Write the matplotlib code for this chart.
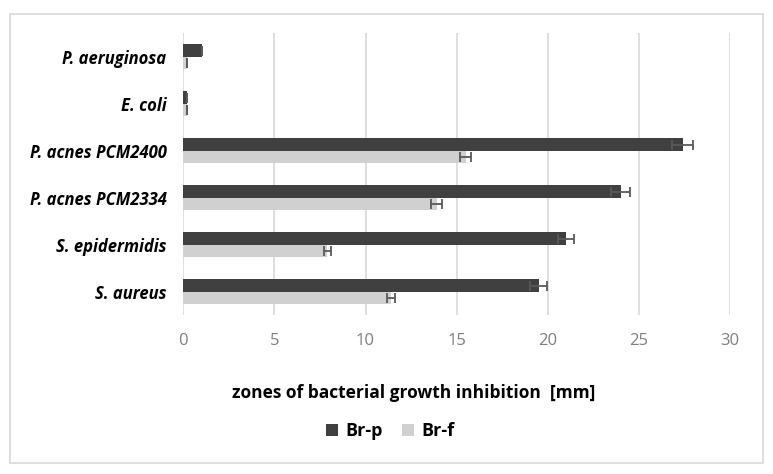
import matplotlib
matplotlib.use("Agg")
import matplotlib.pyplot as plt
import numpy as np
from matplotlib.patches import Rectangle

plt.rcParams['font.family'] = ['Open Sans', 'DejaVu Sans']

# data, bottom to top as drawn
strains = ["S. aureus", "S. epidermidis", "P. acnes PCM2334",
           "P. acnes PCM2400", "E. coli", "P. aeruginosa"]
br_p = [19.5, 21.0, 24.0, 27.4, 0.2, 1.0]
br_p_err = [0.45, 0.45, 0.5, 0.6, 0.0, 0.0]
br_f = [11.4, 7.9, 13.9, 15.5, 0.2, 0.2]
br_f_err = [0.2, 0.2, 0.3, 0.3, 0.0, 0.0]

dark = "#404040"
light = "#d0d0d0"
errc = "#595959"

fig = plt.figure(figsize=(7.73, 4.74), dpi=100)
ax = fig.add_axes([0.2371, 0.335, 0.7072, 0.595])

y = np.arange(len(strains))
h = 0.26
ax.barh(y + h / 2, br_p, height=h, color=dark, label="Br-p", zorder=2)
ax.barh(y - h / 2, br_f, height=h, color=light, label="Br-f", zorder=2)
ax.errorbar(br_p, y + h / 2, xerr=br_p_err, fmt="none", ecolor=errc,
            elinewidth=1.3, capsize=3.5, capthick=1.3, zorder=3)
ax.errorbar(br_f, y - h / 2, xerr=br_f_err, fmt="none", ecolor=errc,
            elinewidth=1.3, capsize=3.5, capthick=1.3, zorder=3)

ax.set_xlim(0, 30)
ax.set_ylim(-0.5, len(strains) - 0.5)
ax.set_xticks(np.arange(0, 31, 5))
ax.set_yticks(y)
ax.set_yticklabels(strains, fontsize=12, fontweight="bold", fontstyle="italic")
ax.tick_params(axis="y", length=0, pad=12)
ax.tick_params(axis="x", length=0, pad=13, labelsize=12, labelcolor="#7f7f7f")
ax.grid(axis="x", color="#d9d9d9", linewidth=1.2, zorder=0)
ax.set_axisbelow(True)
for s in ax.spines.values():
    s.set_visible(False)

fig.text(414 / 773, 1 - 393 / 474, "zones of bacterial growth inhibition  [mm]",
         fontsize=12.5, fontweight="bold", ha="center", va="center")

fig.legend(loc="center", bbox_to_anchor=(390 / 773, 1 - 431 / 474), ncol=2,
           frameon=False, handlelength=0.67, handleheight=0.67,
           handletextpad=0.4, columnspacing=1.05,
           prop={"weight": "bold", "size": 13})

fig.patches.append(Rectangle((10 / 773, 11 / 474), 753 / 773, 449 / 474,
                             transform=fig.transFigure, fill=False,
                             edgecolor="#d9d9d9", linewidth=1.2))

fig.savefig("out.png", dpi=100)
